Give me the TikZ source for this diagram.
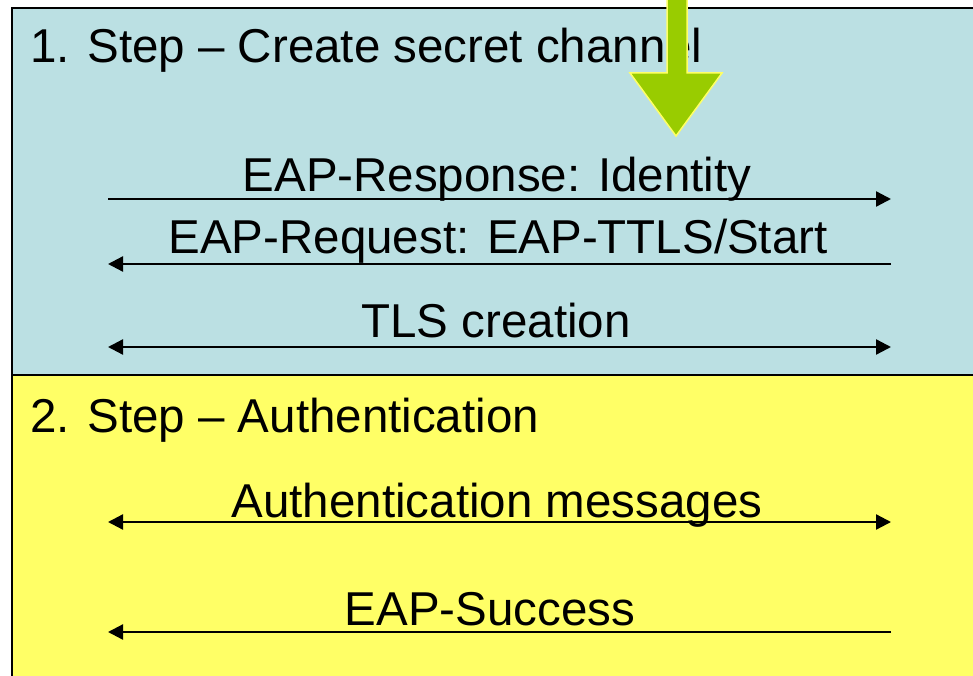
\documentclass[tikz,border=0pt]{standalone}
\usepackage{fontspec}
\setmainfont{Liberation Sans}
\usetikzlibrary{arrows.meta}
\definecolor{boxblue}{RGB}{187,224,227}
\definecolor{boxyellow}{RGB}{255,255,102}
\definecolor{arrgreen}{RGB}{153,204,0}
\definecolor{arredge}{RGB}{255,255,102}
\tikzset{
  lbl/.style={anchor=base, inner sep=0pt, font=\fontsize{47.5}{50}\selectfont},
  ttl/.style={anchor=base west, inner sep=0pt, font=\fontsize{47.5}{50}\selectfont},
  msg/.style={line width=2.3pt, -{Triangle[length=15pt,width=15pt]}},
  msgboth/.style={line width=2.3pt, {Triangle[length=15pt,width=15pt]}-{Triangle[length=15pt,width=15pt]}},
  panel/.style={draw=black, line width=2.5pt},
}
\begin{document}
\begin{tikzpicture}[x=1pt,y=-1pt]
\useasboundingbox (0,0) rectangle (973,676);
% panels
\path[panel, fill=boxblue] (12,8) rectangle (985,375);
\path[panel, fill=boxyellow] (12,375) rectangle (985,690);
% titles
\node[ttl] (t1) at (30,63) {1. Step – Create secret channel};
\node[ttl] (t2) at (30,432) {2. Step – Authentication};
% message labels
\node[lbl] (m1) at (497,192) {EAP-Response: Identity};
\node[lbl] (m2) at (498,253) {EAP-Request: EAP-TTLS/Start};
\node[lbl] (m3) at (496,337) {TLS creation};
\node[lbl] (m4) at (497,517) {Authentication messages};
\node[lbl] (m5) at (490,625) {EAP-Success};
% arrow end points
\coordinate (l1) at (108,199); \coordinate (r1) at (891,199);
\coordinate (l2) at (108,264); \coordinate (r2) at (891,264);
\coordinate (l3) at (108,347); \coordinate (r3) at (891,347);
\coordinate (l4) at (108,522); \coordinate (r4) at (891,522);
\coordinate (l5) at (108,632); \coordinate (r5) at (891,632);
\draw[msg] (l1) -- (r1);
\draw[msg] (r2) -- (l2);
\draw[msgboth] (l3) -- (r3);
\draw[msgboth] (l4) -- (r4);
\draw[msg] (r5) -- (l5);
% green arrow
\path[fill=arrgreen, draw=arredge, line width=1.5pt, line join=miter]
  (667,-5) -- (687,-5) -- (687,73) -- (722,73) -- (676,136) -- (630,73) -- (667,73) -- cycle;
\end{tikzpicture}
\end{document}
